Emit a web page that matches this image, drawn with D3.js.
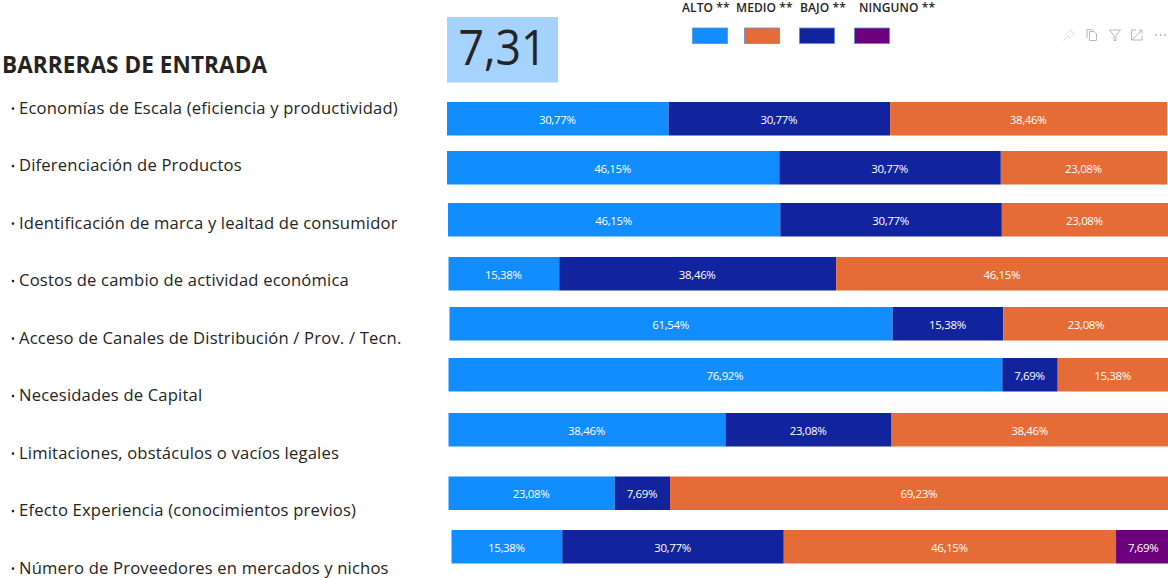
<!DOCTYPE html>
<html lang="es">
<head>
<meta charset="utf-8">
<title>Barreras de entrada</title>
<script src="https://cdn.jsdelivr.net/npm/d3@7"></script>
<style>
  html, body { margin: 0; padding: 0; background: #fff; overflow: hidden; }
  svg { display: block; font-family: "Open Sans", "Noto Sans", sans-serif; }
</style>
</head>
<body>
<svg id="chart" width="1168" height="578"></svg>
<script>
// Categories and survey shares
const categories = [
  "Economías de Escala (eficiencia y productividad)",
  "Diferenciación de Productos",
  "Identificación de marca y lealtad de consumidor",
  "Costos de cambio de actividad económica",
  "Acceso de Canales de Distribución / Prov. / Tecn.",
  "Necesidades de Capital",
  "Limitaciones, obstáculos o vacíos legales",
  "Efecto Experiencia (conocimientos previos)",
  "Número de Proveedores en mercados y nichos"
];
const alto    = [30.77, 46.15, 46.15, 15.38, 61.54, 76.92, 38.46, 23.08, 15.38];
const bajo    = [30.77, 30.77, 30.77, 38.46, 15.38,  7.69, 23.08,  7.69, 30.77];
const medio   = [38.46, 23.08, 23.08, 46.15, 23.08, 15.38, 38.46, 69.23, 46.15];
const ninguno = [    0,     0,     0,     0,     0,     0,     0,     0,  7.69];

const legendLabels = ["ALTO **", "MEDIO **", "BAJO **", "NINGUNO **"];
const heading = "BARRERAS DE ENTRADA";
const scoreLabel = "7,31";

// Each row is an independently placed visual on the dashboard; the last runs past the page edge
const rowTops  = [102, 151, 203, 257, 307, 358, 413, 476.5, 530];
const rowLefts = [447, 447, 448, 448.5, 449.5, 448.5, 448.5, 448.5, 451.5];
const rowWidth = 720;
const barHeight = 33.5;

const colors = { alto: "#118dff", bajo: "#12239e", medio: "#e66c37", ninguno: "#6b007b" };
const ink = "#252423";

const svg = d3.select("#chart");

const table = categories.map((name, i) => ({
  name, alto: alto[i], bajo: bajo[i], medio: medio[i], ninguno: ninguno[i]
}));

const stacked = d3.stack().keys(["alto", "bajo", "medio", "ninguno"])(table);

const topScale = d3.scaleOrdinal(categories, rowTops);
const leftScale = d3.scaleOrdinal(categories, rowLefts);
const shareScale = name => d3.scaleLinear()
  .domain([0, 100])
  .range([leftScale(name), leftScale(name) + rowWidth]);

// Stacked bars, one group per response level
const layers = svg.append("g").selectAll("g")
  .data(stacked)
  .join("g")
  .attr("fill", d => colors[d.key]);

layers.selectAll("rect")
  .data(d => d.filter(s => s[1] > s[0]))
  .join("rect")
  .attr("x", d => shareScale(d.data.name)(d[0]))
  .attr("y", d => topScale(d.data.name))
  .attr("width", d => shareScale(d.data.name)(d[1]) - shareScale(d.data.name)(d[0]))
  .attr("height", barHeight);

layers.selectAll("text")
  .data(d => d.filter(s => s[1] > s[0]))
  .join("text")
  .attr("x", d => (shareScale(d.data.name)(d[0]) + shareScale(d.data.name)(d[1])) / 2 - 0.5)
  .attr("y", d => topScale(d.data.name) + barHeight / 2 + 1.2)
  .attr("dy", "0.35em")
  .attr("text-anchor", "middle")
  .attr("fill", "#fff")
  .attr("font-size", 11.5)
  .attr("letter-spacing", -0.35)
  .text(d => (d[1] - d[0]).toFixed(2).replace(".", ",") + "%");

// Left-hand headings and bulleted row names
svg.append("text")
  .attr("x", 2).attr("y", 72.5)
  .attr("font-size", 22.5)
  .attr("font-weight", 700)
  .attr("letter-spacing", 0.1)
  .attr("fill", ink)
  .text(heading);

const labelScale = d3.scalePoint().domain(categories).range([113.6, 573.6]);

const rowLabels = svg.append("g").selectAll("g")
  .data(categories)
  .join("g")
  .attr("transform", d => `translate(0,${labelScale(d)})`)
  .attr("fill", ink);

rowLabels.append("circle").attr("cx", 13).attr("cy", -5).attr("r", 1.3);
rowLabels.append("text")
  .attr("x", 19)
  .attr("font-size", 16.6)
  .attr("letter-spacing", 0.18)
  .text(d => d);

// KPI card
svg.append("rect")
  .attr("x", 447).attr("y", 17)
  .attr("width", 111).attr("height", 65.5)
  .attr("fill", "#a6d2ff");
svg.append("text")
  .attr("x", 502.5).attr("y", 65)
  .attr("text-anchor", "middle")
  .attr("font-size", 50)
  .attr("fill", ink)
  .attr("textLength", 88)
  .attr("lengthAdjust", "spacingAndGlyphs")
  .text(scoreLabel);

// Legend: captions above detached swatches
const legendKeys = ["alto", "medio", "bajo", "ninguno"];
const captionX = d3.scaleOrdinal(legendKeys, [682, 736, 800, 859]);
const swatchX = d3.scaleOrdinal(legendKeys, [692.5, 744.5, 799.5, 854.5]);

const legend = svg.append("g").selectAll("g")
  .data(legendKeys)
  .join("g");

legend.append("text")
  .attr("x", d => captionX(d))
  .attr("y", 12)
  .attr("font-size", 12)
  .attr("font-weight", 600)
  .attr("letter-spacing", 0.1)
  .attr("fill", ink)
  .text((d, i) => legendLabels[i]);

legend.append("rect")
  .attr("x", d => swatchX(d))
  .attr("y", 28)
  .attr("width", 35)
  .attr("height", 15.5)
  .attr("fill", d => colors[d])
  .attr("stroke", "#5b8fd6")
  .attr("stroke-opacity", 0.8)
  .attr("stroke-width", 1);

// Visual header toolbar
const toolbar = svg.append("g")
  .attr("fill", "none")
  .attr("stroke", "#b8b8b8")
  .attr("stroke-width", 1);

toolbar.append("g").attr("transform", "translate(1069,35)").attr("stroke", "#dcdcdc")
  .call(g => {
    g.append("path").attr("d", "M-5.5 5.5 L-1.5 1.5 M-3.5 -1.5 L2 3.5 M-1.5 -2 L1.5 -5 L5 -1.5 L2 1.5");
  });
toolbar.append("g").attr("transform", "translate(1092,35)")
  .call(g => {
    g.append("path").attr("d", "M-5 3 V-5.5 H0 L2 -3.5");
    g.append("path").attr("d", "M-2.5 -3.5 H2 L4.5 -1 V5.5 H-2.5 Z");
  });
toolbar.append("path").attr("transform", "translate(1115,35)")
  .attr("d", "M-5.5 -5 H5.5 L1 0.5 V5.5 H-1 V0.5 Z");
toolbar.append("g").attr("transform", "translate(1137,35)")
  .call(g => {
    g.append("path").attr("d", "M-1 -5 H-5.5 V5 H5 V1");
    g.append("path").attr("d", "M-5 5 L5 -5 M1.5 -5 H5 V-1.5");
  });
toolbar.append("g").attr("fill", "#8f8f8f").attr("stroke", "none")
  .selectAll("circle")
  .data(d3.range(3))
  .join("circle")
  .attr("cx", i => 1156 + i * 4.5)
  .attr("cy", 35)
  .attr("r", 0.8);
</script>
</body>
</html>
